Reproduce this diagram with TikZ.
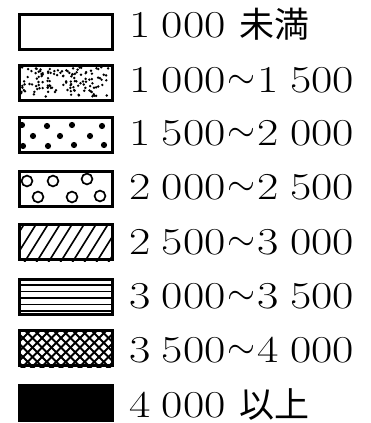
\documentclass[tikz,border=0pt]{standalone}
\usepackage{fontspec}
\setmainfont[FakeStretch=1.22]{Latin Modern Roman}
\newfontfamily\cjk{Noto Sans CJK JP}
\newcommand{\wv}{\hspace{0.05em}\raisebox{3.8pt}{\resizebox{28pt}{!}{$\sim$}}\hspace{0.05em}}
\begin{document}
\begin{tikzpicture}[x=1pt,y=-1pt,
 box/.style={draw, line width=2.9pt, minimum width=92.4pt, minimum height=35pt, inner sep=0pt, anchor=north west},
 lbl/.style={anchor=base west, inner sep=0pt, font=\fontsize{38}{38}\selectfont},
 fill line/.style={line width=1.6pt}]
\useasboundingbox (0,0) rectangle (370,423);
% boxes
\node[box] (b1) at (18.3,13.3) {};
\node[box] (b2) at (18.3,64.3) {};
\node[box] (b3) at (18.3,115.8) {};
\node[box] (b4) at (18.3,170.3) {};
\node[box] (b5) at (18.3,223.3) {};
\node[box] (b6) at (18.3,278.3) {};
\node[box] (b7) at (18.3,329.3) {};
\node[box, fill=black] (b8) at (18.3,384.3) {};
% box 2: fine random dots
\begin{scope}
\clip (b2.south west) rectangle (b2.north east);
\pgfmathsetseed{11}
\foreach \i in {1,...,130}{
  \pgfmathsetmacro{\xx}{21+88*rnd}
  \pgfmathsetmacro{\yy}{67+30*rnd}
  \fill (\xx,\yy) circle (1.35pt);
}
\end{scope}
% box 3: large dots
\begin{scope}
\clip (b3.south west) rectangle (b3.north east);
\foreach \x/\y in {22/125,47/126,72/125,102/126,33/136,60/136,90/136,23/146,48/146,74/145,104/145}
  \fill (\x,\y) circle (3.1pt);
\end{scope}
% box 4: circles
\begin{scope}
\clip (b4.south west) rectangle (b4.north east);
\foreach \x/\y in {27/181,53/181,87/179,38/197,72/197,100/196}
  \draw[line width=1.7pt] (\x,\y) circle (5.4pt);
\end{scope}
% box 5: diagonal hatching
\begin{scope}
\clip (b5.south west) rectangle (b5.north east);
\foreach \k in {-3,...,10}
  \draw[fill line] (10+12*\k,266) -- (10+12*\k+30,218);
\end{scope}
% box 6: horizontal lines
\begin{scope}
\clip (b6.south west) rectangle (b6.north east);
\foreach \y in {285,291.5,298,304.5,311}
  \draw[fill line] (15,\y) -- (115,\y);
\end{scope}
% box 7: crosshatch
\begin{scope}
\clip (b7.south west) rectangle (b7.north east);
\foreach \k in {-6,...,14}{
  \draw[line width=2.1pt] (10+9.5*\k,370) -- (10+9.5*\k+45,325);
  \draw[line width=2.1pt] (10+9.5*\k,325) -- (10+9.5*\k+45,370);
}
\end{scope}
% labels
\node[lbl] (t1) at (129,37) {1\hspace{0.3em}000 {\cjk\fontsize{35}{35}\selectfont 未満}};
\node[lbl] (t2) at (129,92) {1\hspace{0.3em}000\wv 1\hspace{0.3em}500};
\node[lbl] (t3) at (129,145) {1\hspace{0.3em}500\wv 2\hspace{0.3em}000};
\node[lbl] (t4) at (129,199) {2\hspace{0.3em}000\wv 2\hspace{0.3em}500};
\node[lbl] (t5) at (129,254) {2\hspace{0.3em}500\wv 3\hspace{0.3em}000};
\node[lbl] (t6) at (129,308) {3\hspace{0.3em}000\wv 3\hspace{0.3em}500};
\node[lbl] (t7) at (129,362) {3\hspace{0.3em}500\wv 4\hspace{0.3em}000};
\node[lbl] (t8) at (129,417) {4\hspace{0.3em}000 {\cjk\fontsize{35}{35}\selectfont 以上}};
\end{tikzpicture}
\end{document}
